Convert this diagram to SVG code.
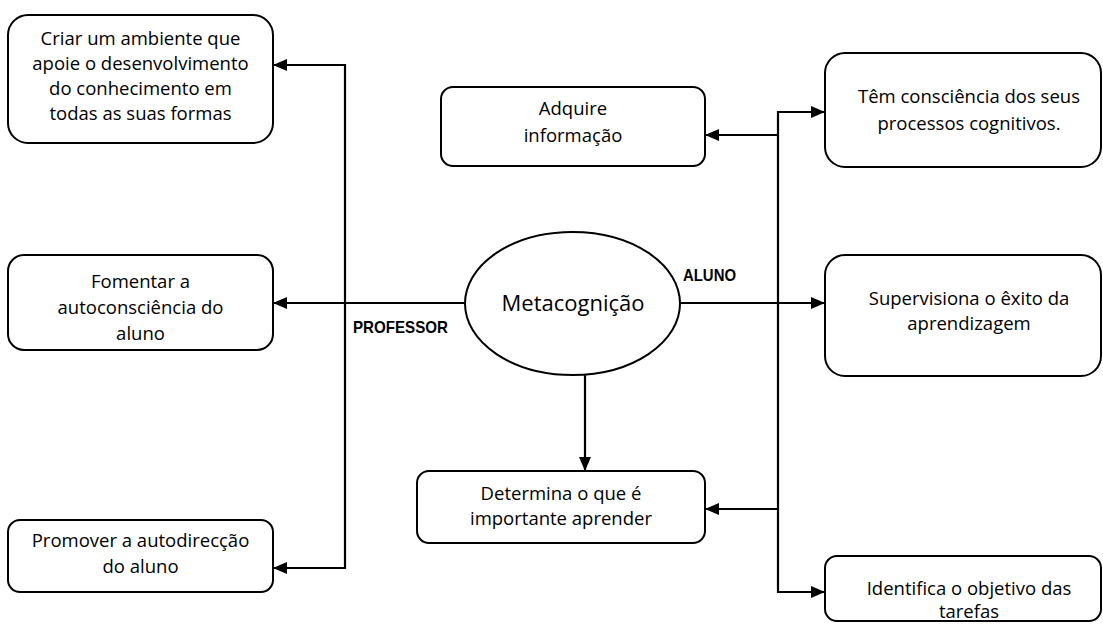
<svg xmlns="http://www.w3.org/2000/svg" width="1103" height="624" viewBox="0 0 1103 624">
  <style>
    .box { fill: #ffffff; stroke: #000000; stroke-width: 2; }
    .lbl { font-family: "Open Sans", "Liberation Sans", sans-serif; font-size: 18.5px; fill: #000000; text-anchor: middle; }
    .main { font-family: "Open Sans", "Liberation Sans", sans-serif; font-size: 22px; font-weight: 500; fill: #000000; text-anchor: middle; }
    .tag { font-family: "Liberation Sans", Arial, sans-serif; font-size: 17px; font-weight: bold; fill: #000000; }
    .wire { fill: none; stroke: #000000; stroke-width: 2.2; }
  </style>
  <defs>
    <marker id="arrow" viewBox="0 0 14 12" refX="13" refY="6" markerWidth="14" markerHeight="12" markerUnits="userSpaceOnUse" orient="auto">
      <path d="M0,0 L14,6 L0,12 z" fill="#000000"/>
    </marker>
  </defs>
  <rect width="1103" height="624" fill="#ffffff"/>

  <!-- connectors -->
  <g id="connectors">
    <path class="wire" d="M465,303 H274" marker-end="url(#arrow)"/>
    <path class="wire" d="M345,64 V569"/>
    <path class="wire" d="M345,65 H274" marker-end="url(#arrow)"/>
    <path class="wire" d="M345,568 H274" marker-end="url(#arrow)"/>
    <path class="wire" d="M680,303 H824" marker-end="url(#arrow)"/>
    <path class="wire" d="M778,111 V593"/>
    <path class="wire" d="M777,112 H824" marker-end="url(#arrow)"/>
    <path class="wire" d="M778,135 H706" marker-end="url(#arrow)"/>
    <path class="wire" d="M778,509 H706" marker-end="url(#arrow)"/>
    <path class="wire" d="M777,592 H824" marker-end="url(#arrow)"/>
    <path class="wire" d="M585,374 V470" marker-end="url(#arrow)"/>
  </g>

  <!-- central concept -->
  <g id="metacognicao">
    <ellipse cx="572.5" cy="303.5" rx="107.5" ry="71.5" class="box"/>
    <text class="main" x="573" y="311">Metacognição</text>
  </g>

  <text class="tag" x="683" y="281" textLength="53" lengthAdjust="spacingAndGlyphs">ALUNO</text>
  <text class="tag" x="353" y="333" textLength="95" lengthAdjust="spacingAndGlyphs">PROFESSOR</text>

  <!-- teacher side -->
  <g id="criar-ambiente">
    <rect class="box" x="8" y="15" width="265" height="128" rx="20"/>
    <text class="lbl" x="140.5" y="45">Criar um ambiente que</text>
    <text class="lbl" x="140.5" y="70">apoie o desenvolvimento</text>
    <text class="lbl" x="140.5" y="95">do conhecimento em</text>
    <text class="lbl" x="140.5" y="120">todas as suas formas</text>
  </g>
  <g id="fomentar">
    <rect class="box" x="8" y="255" width="265" height="95" rx="16"/>
    <text class="lbl" x="140.5" y="288">Fomentar a</text>
    <text class="lbl" x="140.5" y="314">autoconsciência do</text>
    <text class="lbl" x="140.5" y="340">aluno</text>
  </g>
  <g id="promover">
    <rect class="box" x="8" y="520" width="265" height="72" rx="12"/>
    <text class="lbl" x="140.5" y="547">Promover a autodirecção</text>
    <text class="lbl" x="140.5" y="573">do aluno</text>
  </g>

  <!-- student side -->
  <g id="adquire">
    <rect class="box" x="441" y="87" width="264" height="79" rx="12"/>
    <text class="lbl" x="573" y="115">Adquire</text>
    <text class="lbl" x="573" y="142">informação</text>
  </g>
  <g id="consciencia">
    <rect class="box" x="825" y="53" width="276" height="114" rx="20"/>
    <text class="lbl" x="969" y="103">Têm consciência dos seus</text>
    <text class="lbl" x="969" y="130">processos cognitivos.</text>
  </g>
  <g id="supervisiona">
    <rect class="box" x="825" y="255" width="276" height="121" rx="20"/>
    <text class="lbl" x="969" y="305">Supervisiona o êxito da</text>
    <text class="lbl" x="969" y="330">aprendizagem</text>
  </g>
  <g id="determina">
    <rect class="box" x="417" y="471" width="288" height="72" rx="12"/>
    <text class="lbl" x="561" y="500">Determina o que é</text>
    <text class="lbl" x="561" y="525">importante aprender</text>
  </g>
  <g id="identifica">
    <rect class="box" x="825" y="556" width="276" height="65" rx="12"/>
    <text class="lbl" x="969" y="595">Identifica o objetivo das</text>
    <text class="lbl" x="969" y="618">tarefas</text>
  </g>
</svg>
